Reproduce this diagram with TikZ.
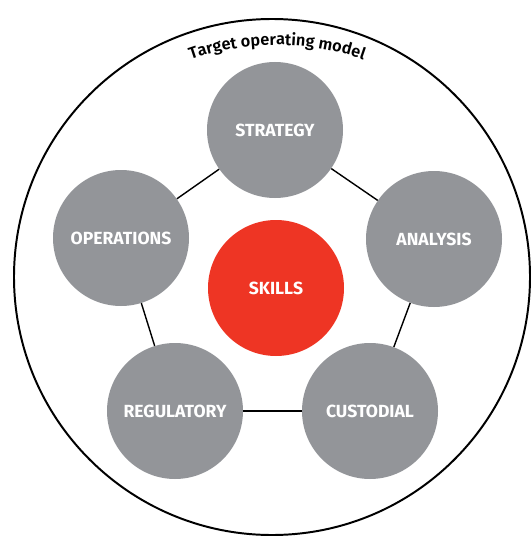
\documentclass[tikz,border=0pt]{standalone}
\usepackage{fontspec}
\setmainfont{Fira Sans}
\newfontfamily\titlefont{Fira Sans SemiBold}
\usetikzlibrary{decorations.text}

\definecolor{pillargrey}{RGB}{147,149,153}
\definecolor{skillred}{RGB}{238,53,36}

\tikzset{
  pillar/.style={circle, minimum size=3.4cm, inner sep=0pt, fill=pillargrey,
    text=white, font=\fontsize{12.5}{14}\selectfont\bfseries},
  link/.style={line width=1pt, black}
}

\begin{document}
\begin{tikzpicture}

\useasboundingbox (0,0) rectangle (13.25,-13.425);

% outer ring and its title
\coordinate (o) at (6.8,-6.925);
\draw [line width=1.4pt] (o) circle (6.45);
\coordinate (t) at (6.925,-7.625);
\path [decorate, decoration={text along path, text align=center,
    text={|\titlefont\fontsize{11.6}{13}\selectfont|Target operating model}}]
  (t) ++(120:6.5) arc (120:60:6.5);

\node [pillar] (v1) at (6.875,-3.25) {STRATEGY};
\node [pillar] (v2) at (10.85,-5.975) {ANALYSIS};
\node [pillar] (v3) at (9.25,-10.275) {CUSTODIAL};
\node [pillar] (v4) at (4.375,-10.275) {REGULATORY};
\node [pillar] (v5) at (3.025,-5.95) {OPERATIONS};
\node [pillar, fill=skillred] (v0) at (6.9,-7.2) {SKILLS};
\draw [link] (v1) edge (v2);
\draw [link] (v2) edge (v3);
\draw [link] (v3) edge (v4);
\draw [link] (v4) edge (v5);
\draw [link] (v5) edge (v1);
\end{tikzpicture}
\end{document}
